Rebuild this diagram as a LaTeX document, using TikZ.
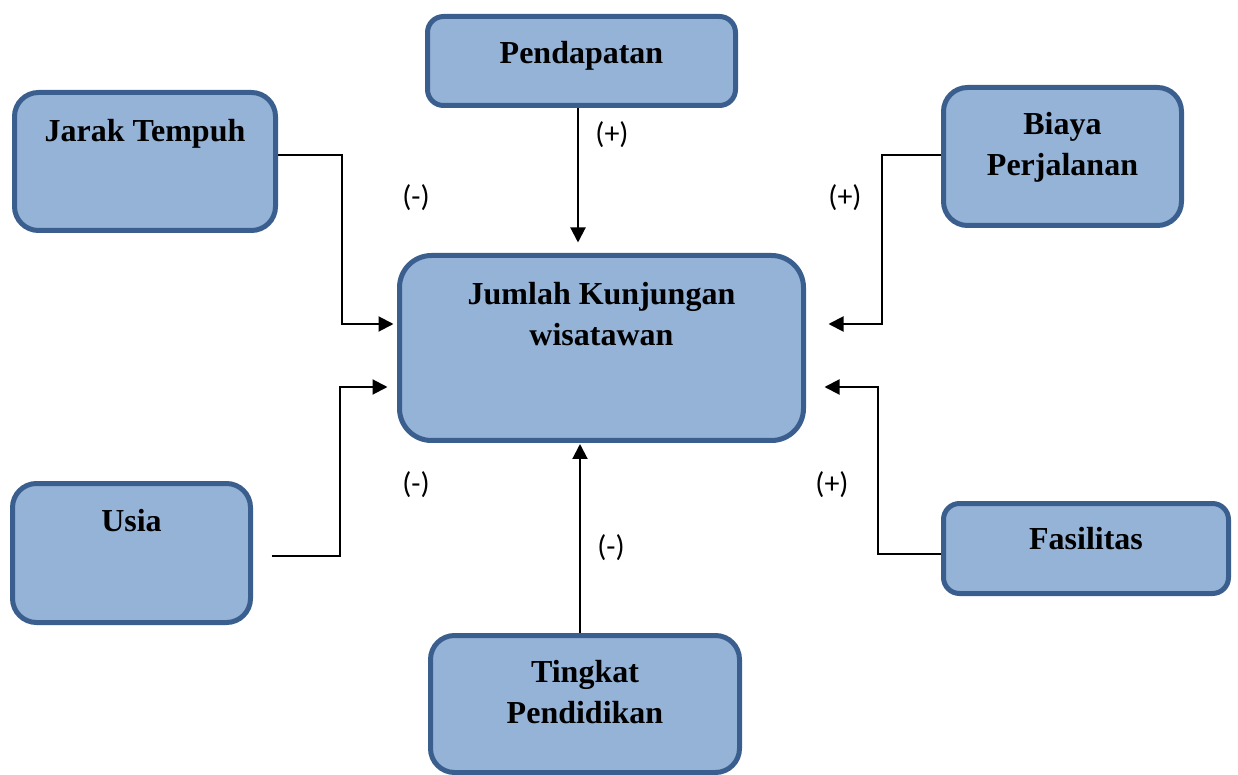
\documentclass[tikz,border=0pt]{standalone}
\usepackage{fontspec}
\setmainfont{Liberation Serif}
\newfontfamily\signfont{Carlito}
\usepackage{tikz}
\usetikzlibrary{positioning,arrows.meta}
\definecolor{boxfill}{HTML}{95B3D7}
\definecolor{boxline}{HTML}{3A5F8E}

\begin{document}
\begin{tikzpicture}[x=0.5pt, y=-0.5pt,
  box/.style={draw=boxline, fill=boxfill, line width=2.5pt,
              rounded corners=#1, inner sep=0pt},
  title/.style={inner sep=0pt, align=center,
                font=\fontsize{16}{20.25}\selectfont\bfseries},
  sign/.style={inner sep=0pt, font=\signfont\fontsize{15}{18}\selectfont},
  arr/.style={-{Triangle[length=7.5pt, width=7.5pt]}, line width=1pt, black}]
  \useasboundingbox (0,0) rectangle (1238,775);
  % factor boxes
  \node[box=8pt, minimum width=154pt, minimum height=44.5pt] (pend) at (581.5,61) {};
  \node[box=12pt, minimum width=130.5pt, minimum height=69pt] (jarak) at (145,161.5) {};
  \node[box=12pt, minimum width=119pt, minimum height=69pt] (biaya) at (1062.5,156.5) {};
  \node[box=16pt, minimum width=202pt, minimum height=92.5pt] (jumlah) at (601.5,348) {};
  \node[box=12pt, minimum width=119pt, minimum height=69.5pt] (usia) at (131.5,553) {};
  \node[box=8pt, minimum width=142.5pt, minimum height=45pt] (fasilitas) at (1086,548.5) {};
  \node[box=12pt, minimum width=154.5pt, minimum height=68.5pt] (tingkat) at (585,704) {};
  % box titles
  \node[title, below=13.5pt of pend.north] (pendT) {Pendapatan};
  \node[title, below=14.5pt of jarak.north] (jarakT) {Jarak Tempuh};
  \node[title, below=13.5pt of biaya.north] (biayaT) {Biaya\\Perjalanan};
  \node[title, below=14.5pt of jumlah.north] (jumlahT) {Jumlah Kunjungan\\wisatawan};
  \node[title, below=14pt of usia.north] (usiaT) {Usia};
  \node[title, below=13pt of fasilitas.north] (fasilitasT) {Fasilitas};
  \node[title, below=13.5pt of tingkat.north] (tingkatT) {Tingkat\\Pendidikan};
  % connectors
  \draw[arr, shorten >=1.75pt] ([yshift=3.25pt]jarak.east) -| (342,240)
    |- ([yshift=12pt]jumlah.west);
  \draw[arr, shorten >=5.25pt] ([xshift=-1.75pt]pend.south)
    -- ([xshift=-1.75pt]pend.south |- jumlah.north);
  \draw[arr, shorten >=11.25pt] ([yshift=0.75pt]biaya.west) -| (882,240)
    |- ([yshift=12pt]jumlah.east);
  \draw[arr, shorten <=9.25pt, shorten >=4.75pt] ([yshift=-1.5pt]usia.east)
    -| (340,470) |- ([yshift=-19.5pt]jumlah.west);
  \draw[arr, shorten >=9.25pt] ([yshift=-2.75pt]fasilitas.west) -| (878,470)
    |- ([yshift=-19.5pt]jumlah.east);
  \draw[arr, shorten >=0.5pt] ([xshift=-2.5pt]tingkat.north)
    -- ([xshift=-2.5pt]tingkat.north |- jumlah.south);
  % signs
  \node[sign] (s1) at (416,198) {(-)};
  \node[sign] (s2) at (612,135) {(+)};
  \node[sign] (s3) at (845,198) {(+)};
  \node[sign] (s4) at (416,485) {(-)};
  \node[sign] (s5) at (832,485) {(+)};
  \node[sign] (s6) at (611,548) {(-)};
\end{tikzpicture}
\end{document}
